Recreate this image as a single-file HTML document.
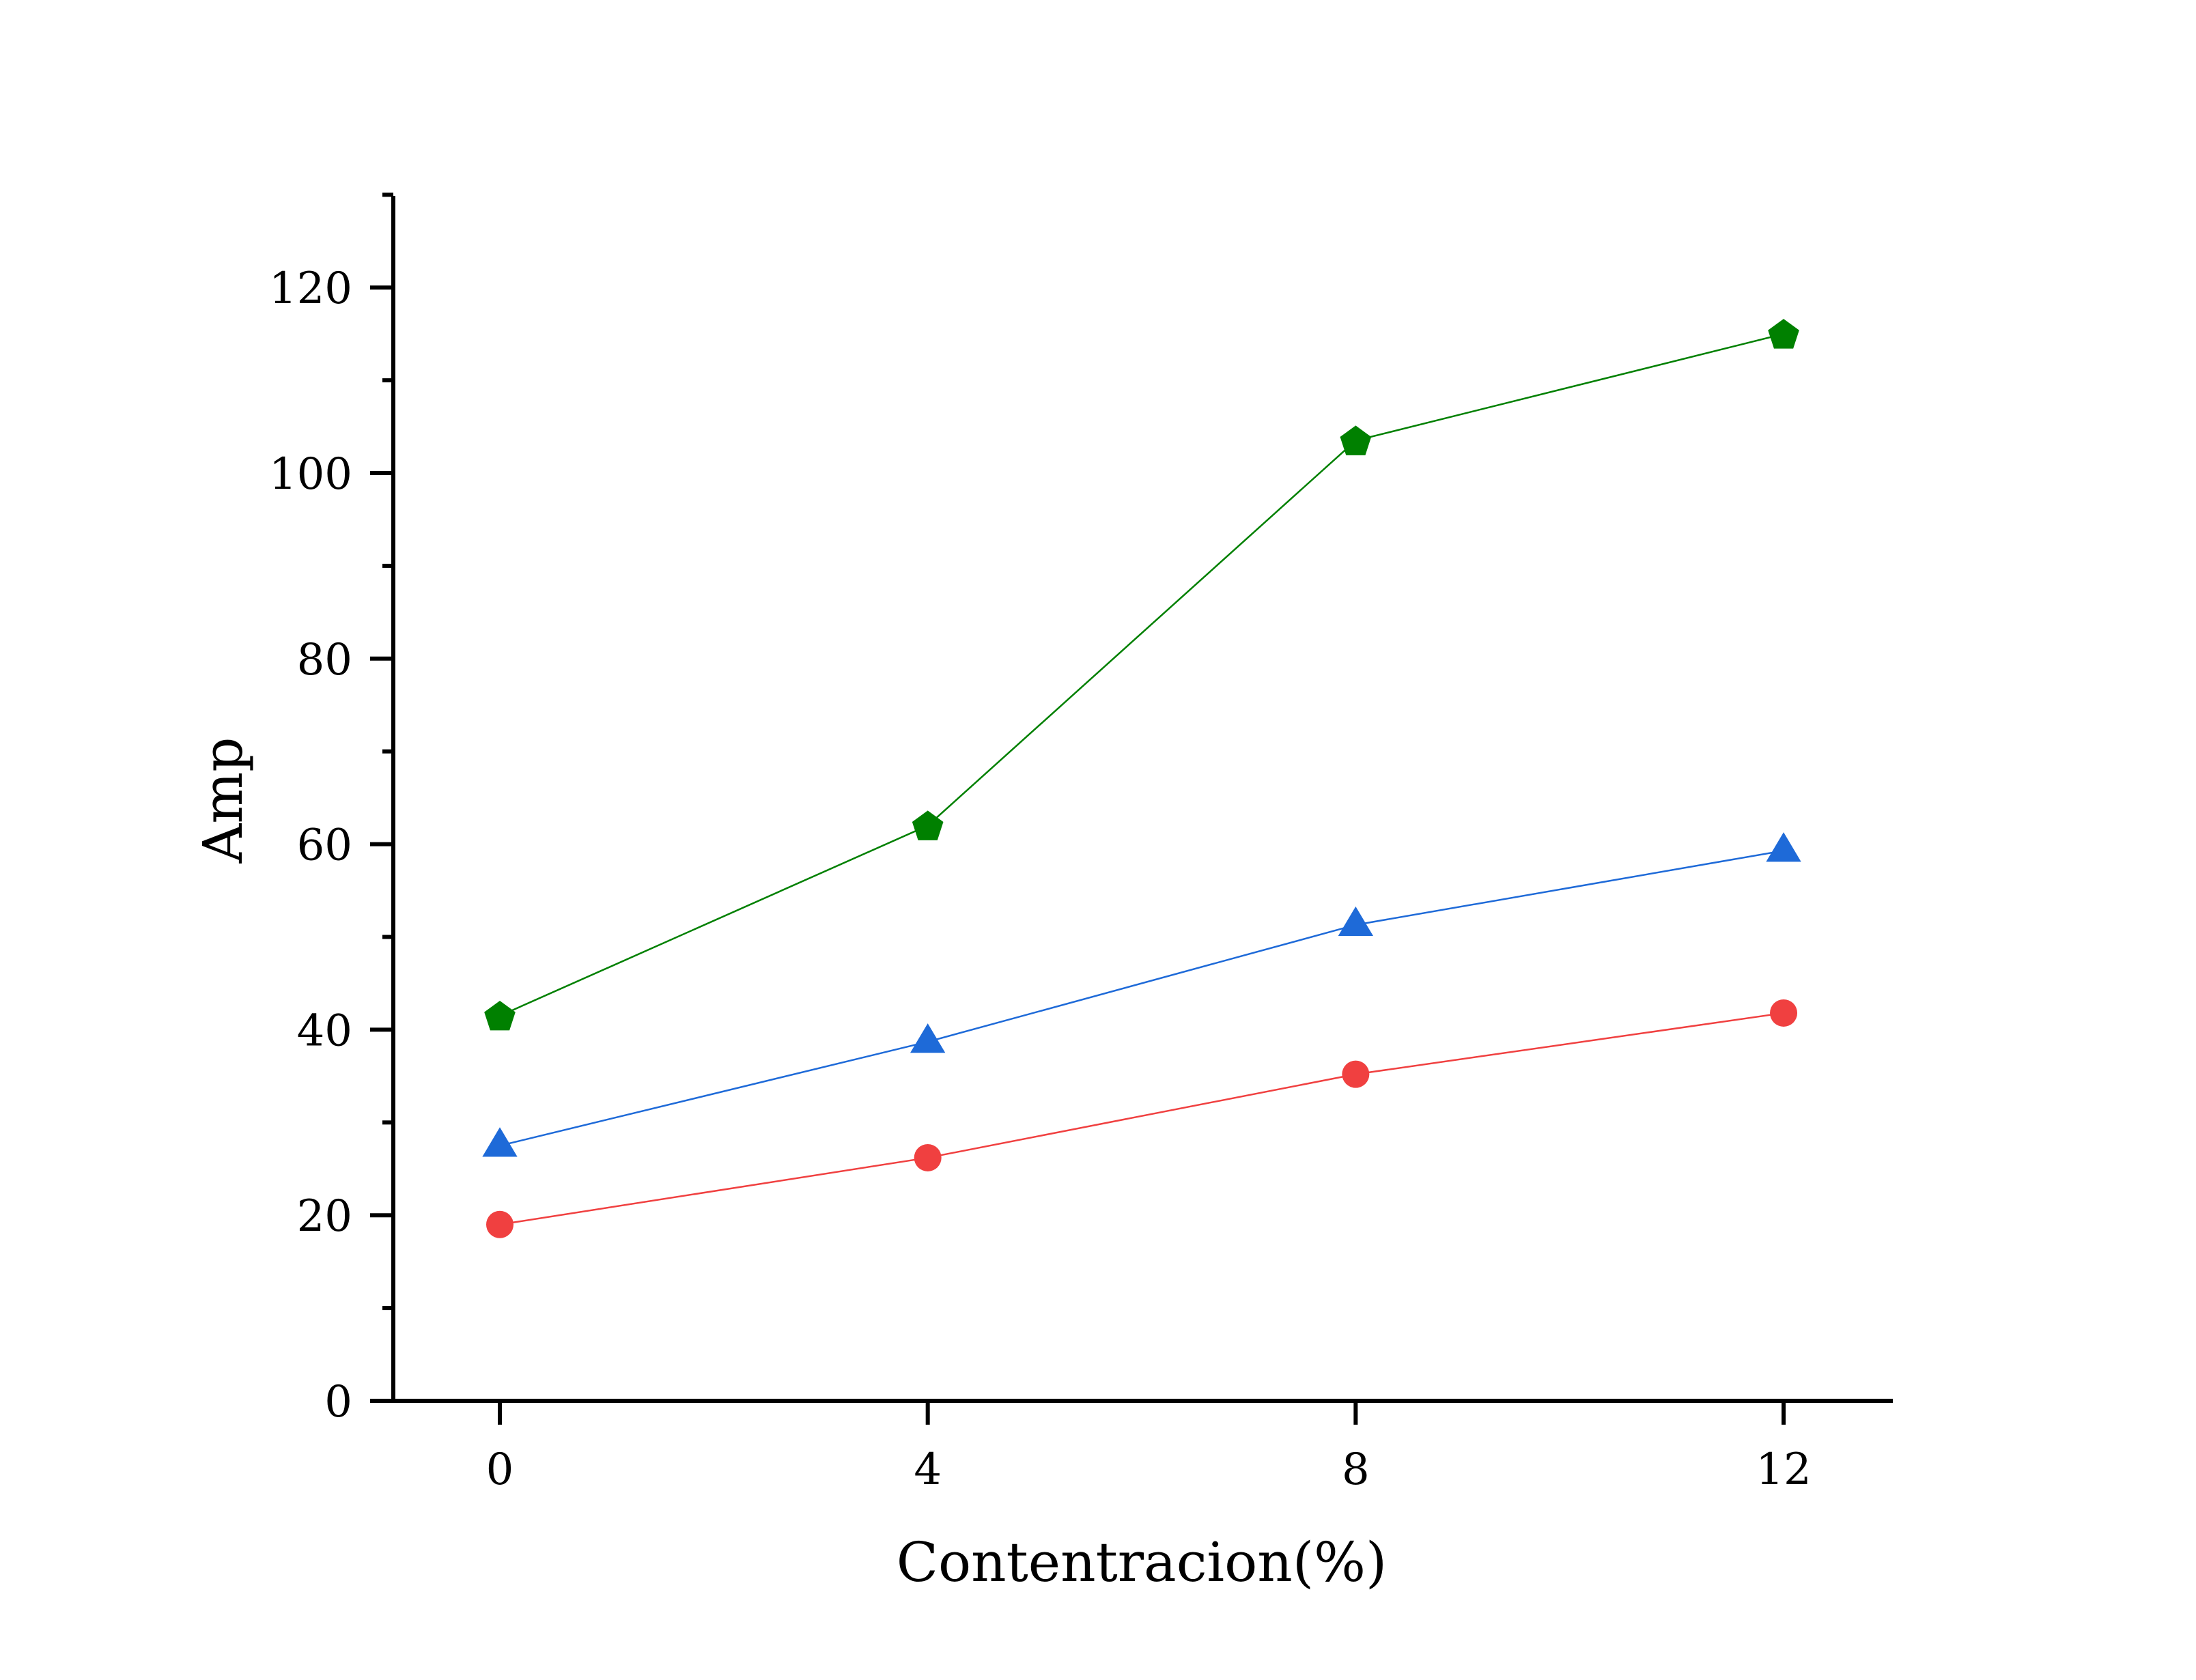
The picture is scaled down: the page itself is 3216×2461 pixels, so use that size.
<!DOCTYPE html>
<html><head><meta charset="utf-8"><style>html,body{margin:0;padding:0;background:#fff}svg{display:block}</style></head>
<body>
<svg id="chart" width="3216" height="2461" viewBox="0 0 3216 2461" xmlns="http://www.w3.org/2000/svg">
<rect width="3216" height="2461" fill="#fff"/>
<g id="axes"></g>
<g id="series"></g>
<text x="1672" y="2316" text-anchor="middle" font-family="DejaVu Serif, serif" font-size="80">Contentracion(%)</text>
<text transform="translate(354,1172) rotate(-90)" text-anchor="middle" font-family="DejaVu Serif, serif" font-size="80">Amp</text>
</svg>
<script>
const categories = [0, 4, 8, 12];
const xTicks = [0, 4, 8, 12];
const yTicks = [0, 20, 40, 60, 80, 100, 120];
const greenValues = [41.5, 62, 103.5, 115];
const blueValues = [27.5, 38.7, 51.3, 59.3];
const redValues = [19, 26.2, 35.2, 41.8];

const NS = 'http://www.w3.org/2000/svg';
const X0 = 732, XPU = 156.67, Y0 = 2052, YPU = 13.59;
function xs(v){ return X0 + v * XPU; }
function ys(v){ return Y0 - v * YPU; }
function mk(tag, attrs, parent){ const e = document.createElementNS(NS, tag); for (const k in attrs) e.setAttribute(k, attrs[k]); parent.appendChild(e); return e; }
const axes = document.getElementById('axes');
const series = document.getElementById('series');

let el = mk('line', {x1:576, y1:287, x2:576, y2:Y0+3, stroke:'#000', 'stroke-width':6}, axes);


el = mk('line', {x1:542, y1:Y0, x2:2772, y2:Y0, stroke:'#000', 'stroke-width':6}, axes);



yTicks.forEach(function(t){
  const y = ys(t);
  const tk = mk('line', {x1:542, y1:y, x2:576, y2:y, stroke:'#000', 'stroke-width':6}, axes);
  
  
  const lb = mk('text', {x:516, y:y + 23, 'text-anchor':'end', 'font-family':'DejaVu Serif, serif', 'font-size':64}, axes);
  lb.textContent = t;
  
  
  if (t < 120) {
    const my = ys(t + 10);
    const mt = mk('line', {x1:560, y1:my, x2:576, y2:my, stroke:'#000', 'stroke-width':6}, axes);
    
    
  }
});
const mt2 = mk('line', {x1:560, y1:ys(130), x2:576, y2:ys(130), stroke:'#000', 'stroke-width':6}, axes);



xTicks.forEach(function(t){
  const x = xs(t);
  const tk = mk('line', {x1:x, y1:Y0, x2:x, y2:Y0 + 35, stroke:'#000', 'stroke-width':6}, axes);
  
  
  const lb = mk('text', {x:x, y:2174, 'text-anchor':'middle', 'font-family':'DejaVu Serif, serif', 'font-size':64}, axes);
  lb.textContent = t;
  
  
});

function drawSeries(vals, color, shape, name){
  const pts = vals.map(function(v, i){ return xs(categories[i]) + ',' + ys(v); }).join(' ');
  const pl = mk('polyline', {points:pts, fill:'none', stroke:color, 'stroke-width':2.5}, series);
  
  
  vals.forEach(function(v, i){
    const cx = xs(categories[i]), cy = ys(v);
    let m;
    if (shape === 'circle') {
      m = mk('circle', {cx:cx, cy:cy, r:20, fill:color}, series);
    } else if (shape === 'triangle') {
      const r = 27;
      m = mk('polygon', {points:(cx)+','+(cy-r)+' '+(cx-r*0.95)+','+(cy+r*0.6)+' '+(cx+r*0.95)+','+(cy+r*0.6), fill:color}, series);
    } else {
      const r = 24, p = [];
      for (let k = 0; k < 5; k++) { const a = -Math.PI/2 + k*2*Math.PI/5; p.push((cx + r*Math.cos(a)) + ',' + (cy + 2 + r*Math.sin(a))); }
      m = mk('polygon', {points:p.join(' '), fill:color}, series);
    }
    
    
  });
}
drawSeries(redValues, '#f04040', 'circle', 'red-series');
drawSeries(blueValues, '#1e6ad8', 'triangle', 'blue-series');
drawSeries(greenValues, '#008000', 'pentagon', 'green-series');
</script>
</body></html>
